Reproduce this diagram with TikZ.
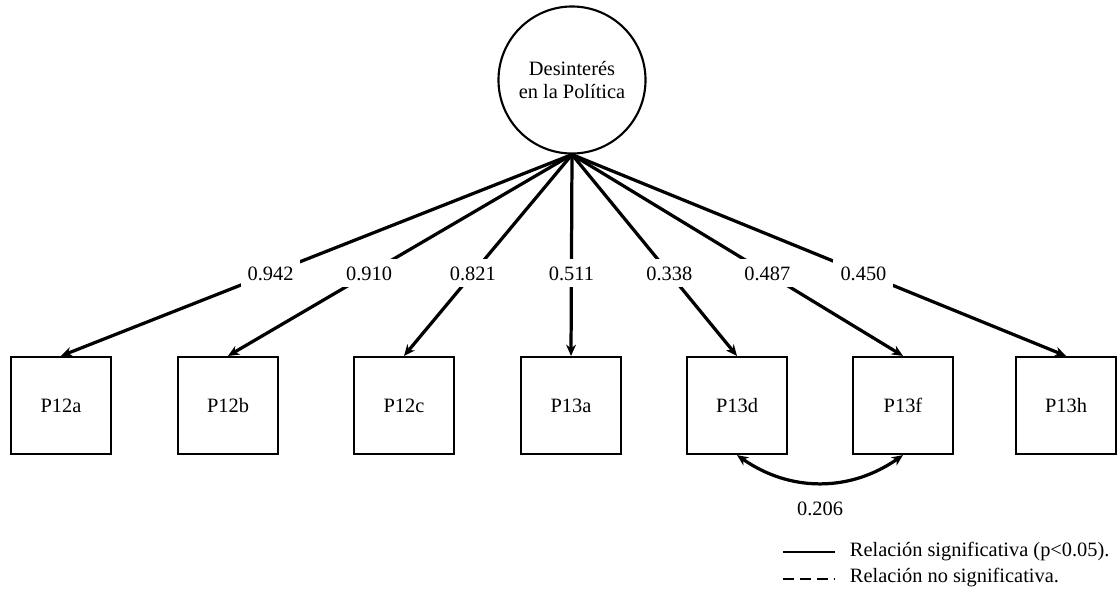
\documentclass[tikz,border=0pt]{standalone}
\usepackage{fontspec}
\setmainfont{Liberation Serif}
\usetikzlibrary{arrows.meta,positioning}

\begin{document}
\begin{tikzpicture}[
    x=0.025cm,
    y=-0.025cm,
    font=\fontsize{14.5}{16.5}\selectfont,
    latent/.style={
        circle,
        draw=black,
        line width=1.5pt,
        minimum size=3.675cm,
        inner sep=0pt,
        align=center
    },
    item/.style={
        rectangle,
        draw=black,
        line width=1.5pt,
        minimum width=2.5cm,
        minimum height=2.425cm
    },
    arrow/.style={
        line width=2.3pt,
        -{Stealth[length=8pt,width=7pt]}
    },
    covarrow/.style={
        line width=2.3pt,
        {Stealth[length=8pt,width=7pt]}-{Stealth[length=8pt,width=7pt]}
    },
    loading/.style={
        fill=white,
        inner sep=5pt,
        pos=0.59
    },
    legendline/.style={
        line width=1.5pt
    }
]
\useasboundingbox (0,0) rectangle (1119,592);

% Factor latente
\node[latent] (des) at (572,80) {Desinterés\\en la Política};

% Indicadores
\node[item] (p12a) at (61,405.5) {P12a};
\node[item] (p12b) at (228,405.5) {P12b};
\node[item] (p12c) at (404,405.5) {P12c};
\node[item] (p13a) at (571,405.5) {P13a};
\node[item] (p13d) at (737,405.5) {P13d};
\node[item] (p13f) at (903,405.5) {P13f};
\node[item] (p13h) at (1066,405.5) {P13h};

% Cargas factoriales
\draw[arrow] (des.south) -- node[loading] {0.942} (p12a.north);
\draw[arrow] (des.south) -- node[loading] {0.910} (p12b.north);
\draw[arrow] (des.south) -- node[loading] {0.821} (p12c.north);
\draw[arrow] (des.south) -- node[loading] {0.511} (p13a.north);
\draw[arrow] (des.south) -- node[loading] {0.338} (p13d.north);
\draw[arrow] (des.south) -- node[loading] {0.487} (p13f.north);
\draw[arrow] (des.south) -- node[loading] {0.450} (p13h.north);

% Covarianza
\draw[covarrow] (p13d.south) to[bend right=35] node[below=9pt] (cov) {0.206} (p13f.south);

% Leyenda
\coordinate (sig1) at (783,552);
\coordinate (sig2) at (835,552);
\coordinate (nsig1) at (783,579);
\coordinate (nsig2) at (835,579);
\draw[legendline] (sig1) -- (sig2);
\draw[legendline, dash pattern=on 8pt off 4pt] (nsig1) -- (nsig2);
\node[anchor=west] (sigtext) at (845,552) {Relación significativa (p<0.05).};
\node[anchor=west] (nsigtext) at (845,578) {Relación no significativa.};

\end{tikzpicture}
\end{document}
